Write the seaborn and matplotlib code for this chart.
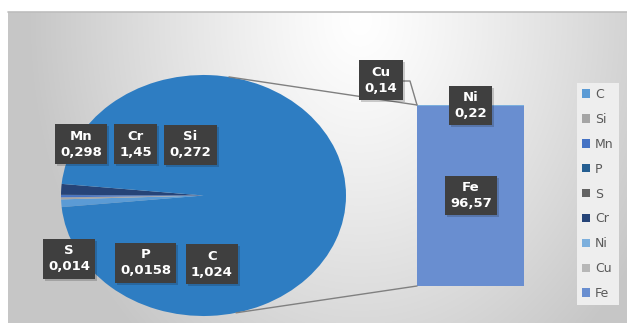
import numpy as np
import matplotlib
matplotlib.use("Agg")
import matplotlib.pyplot as plt
import seaborn as sns
from matplotlib import patheffects as pe

# Composition of the steel (wt %)
pie_elements = ["C", "Si", "Mn", "P", "S", "Cr"]
pie_values = [1.024, 0.272, 0.298, 0.0158, 0.014, 1.45]
bar_elements = ["Ni", "Cu", "Fe"]
bar_values = [0.22, 0.14, 96.57]

pie_colors = ["#5B9BD5", "#A5A5A5", "#4472C4", "#255E91", "#636363", "#264478"]
bar_colors = ["#7CAFDD", "#B7B7B7", "#698ED0"]
other_color = "#2E7DC2"

W, H = 627, 323
sns.set_theme(style="white")
plt.rcParams["font.family"] = ["DejaVu Sans"]

fig = plt.figure(figsize=(W / 100, H / 100), dpi=100, facecolor="white")


def rect(x0, y0, x1, y1):
    """Pixel box (top-down) -> figure fraction rect."""
    return [x0 / W, 1 - y1 / H, (x1 - x0) / W, (y1 - y0) / H]


def fmt(v):
    return f"{v:g}".replace(".", ",")


# chart-area background: soft radial gradient
axbg = fig.add_axes(rect(8, 12, W, H), zorder=0)
gx, gy = np.meshgrid(np.arange(8, W), np.arange(12, H))
d = np.sqrt(((gx - 360) / 330.0) ** 2 + ((gy - 20) / 420.0) ** 2)
shade = 1 - 0.22 * np.clip(d, 0, 1) ** 1.2
axbg.imshow(np.dstack([shade] * 3), aspect="auto", interpolation="bilinear")
axbg.set_axis_off()

# pie of the minor elements plus the grouped remainder
axp = fig.add_axes(rect(61, 75, 346, 316), zorder=2)
all_vals = pie_values + [sum(bar_values)]
total = sum(all_vals)
small_deg = 360 * sum(pie_values) / total
wedges, _ = axp.pie(all_vals, colors=pie_colors + [other_color],
                    startangle=180 + small_deg / 2, counterclock=False,
                    wedgeprops=dict(linewidth=0))
for w, lab in zip(wedges, pie_elements):
    w.set_label(lab)
axp.set_aspect("auto")
axp.set_xlim(-1, 1)
axp.set_ylim(-1, 1)
axp.set_axis_off()

# stacked bar breaking down the remainder
axb = fig.add_axes(rect(417, 105, 524, 286), zorder=2)
cum = np.cumsum(bar_values[::-1])[::-1]  # Ni+Cu+Fe, Cu+Fe, Fe
order = [(cum[0], bar_colors[1], "Cu"), (cum[0] - bar_values[1], bar_colors[0], "Ni"),
         (bar_values[2], bar_colors[2], "Fe")]
bar_handles = {}
for top, col, lab in order:
    n = len(axb.patches)
    sns.barplot(x=[0], y=[top], color=col, width=1, ax=axb, saturation=1)
    for p in axb.patches[n:]:
        p.set_linewidth(0)
        bar_handles[lab] = p
if axb.get_legend() is not None:
    axb.get_legend().remove()
axb.set_xlim(-0.5, 0.5)
axb.set_ylim(0, sum(bar_values))
axb.set_axis_off()
for p in axb.patches:
    p.set_path_effects([pe.SimplePatchShadow(offset=(2, -2), alpha=0.12), pe.Normal()])

# overlay for connector lines and data labels
axo = fig.add_axes([0, 0, 1, 1], zorder=5)
axo.set_xlim(0, W)
axo.set_ylim(H, 0)
axo.set_axis_off()
axo.patch.set_alpha(0)

axo.plot([8, W], [12, 12], color="#BDBDBD", lw=1.2)
cx, cy, rx, ry = 203.5, 195.5, 142.5, 120.5
for ang, (bx, by) in [(79.7, (417, 105)), (-76.8, (417, 286))]:
    a = np.deg2rad(ang)
    axo.plot([cx + rx * np.cos(a), bx], [cy - ry * np.sin(a), by], color="#808080", lw=1)
axo.plot([401, 410, 417], [81, 81, 105], color="#808080", lw=1)

label_pos = {"Mn": (81, 144), "Cr": (135.5, 144), "Si": (190.5, 145),
             "S": (69, 259), "P": (145.5, 263), "C": (212, 264),
             "Cu": (381, 80), "Ni": (470.5, 105.5), "Fe": (471, 195.5)}
values = dict(zip(pie_elements + bar_elements, pie_values + bar_values))
for name, (x, y) in label_pos.items():
    t = axo.text(x, y, f"{name}\n{fmt(values[name])}", ha="center", va="center",
                 color="white", fontweight="bold", fontsize=9.5, linespacing=1.3,
                 bbox=dict(boxstyle="square,pad=0.4", fc="#3F3F3F", ec="none"))
    t.get_bbox_patch().set_path_effects(
        [pe.SimplePatchShadow(offset=(1.5, -1.5), alpha=0.2), pe.Normal()])

# legend
handles = list(wedges[:6]) + [bar_handles[k] for k in bar_elements]
leg = fig.legend(handles, pie_elements + bar_elements, loc="upper left",
                 bbox_to_anchor=(577 / W, 1 - 83 / H), bbox_transform=fig.transFigure,
                 frameon=True, facecolor="#EEEEEE", edgecolor="none", framealpha=1,
                 fontsize=9, handlelength=0.65, handleheight=0.65, handletextpad=0.4,
                 labelspacing=0.95, borderpad=0.4, borderaxespad=0, fancybox=False)
for txt in leg.get_texts():
    txt.set_color("#595959")
for h in leg.legend_handles:
    h.set_path_effects([])
leg.set_zorder(6)

fig.savefig("out.png", dpi=100, facecolor="white")
